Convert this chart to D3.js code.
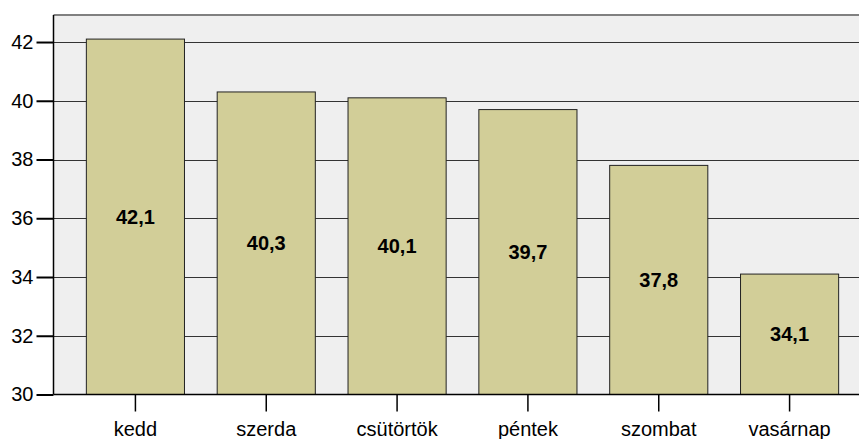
<!DOCTYPE html>
<html lang="hu">
<head>
    <meta charset="UTF-8">
    <title>Napok</title>
    <style>
        html, body { margin: 0; padding: 0; background: #fff; overflow: hidden; }
        svg { display: block; }
        .tick text { font-family: "Liberation Sans", Arial, sans-serif; font-size: 20px; fill: #000; }
        .val { font-family: "Liberation Sans", Arial, sans-serif; font-size: 20px; font-weight: bold; text-anchor: middle; dominant-baseline: central; }
    </style>
    <script src="https://d3js.org/d3.v7.min.js"></script>
</head>
<body>
<svg width="859" height="439"></svg>
<script>
    var days = ["kedd", "szerda", "csütörtök", "péntek", "szombat", "vasárnap"];
    var values = [42.1, 40.3, 40.1, 39.7, 37.8, 34.1];
    var yTicks = [30, 32, 34, 36, 38, 40, 42];
    var valueLabels = ["42,1", "40,3", "40,1", "39,7", "37,8", "34,1"];

    var data = days.map((d, i) => ({day: d, value: values[i], label: valueLabels[i]}));

    var svg = d3.select("svg");
    var plotLeft = 53.5, plotTop = 15, plotRight = 859, plotBottom = 394.5;

    var x = d3.scaleBand().domain(days).range([70, 855]).paddingInner(0.25).paddingOuter(0.125);
    var y = d3.scaleLinear().domain([30, 42.92]).range([plotBottom, plotTop]);

    // plot background
    svg.append("rect")
        .attr("x", plotLeft).attr("y", plotTop)
        .attr("width", plotRight - plotLeft).attr("height", plotBottom - plotTop)
        .attr("fill", "#efefef");

    // top border
    svg.append("line")
        .attr("x1", plotLeft).attr("x2", plotRight)
        .attr("y1", plotTop).attr("y2", plotTop)
        .attr("stroke", "#808080").attr("stroke-width", 2);

    // grid lines
    svg.append("g").selectAll("line")
        .data(yTicks.slice(1))
        .enter().append("line")
        .attr("x1", plotLeft).attr("x2", plotRight)
        .attr("y1", d => Math.round(y(d)) + 0.5).attr("y2", d => Math.round(y(d)) + 0.5)
        .attr("stroke", "#333").attr("stroke-width", 1);

    // bars
    svg.append("g").selectAll("rect")
        .data(data)
        .enter().append("rect")
        .attr("x", d => x(d.day))
        .attr("y", d => y(d.value))
        .attr("width", x.bandwidth())
        .attr("height", d => plotBottom - y(d.value))
        .attr("fill", "#d2ce98")
        .attr("stroke", "#222")
        .attr("stroke-width", 1);

    // value labels
    svg.append("g").selectAll("text")
        .data(data)
        .enter().append("text")
        .attr("class", "val")
        .attr("x", d => x(d.day) + x.bandwidth() / 2)
        .attr("y", d => (y(d.value) + plotBottom) / 2)
        .text(d => d.label);

    // y axis
    var yAxis = svg.append("g")
        .attr("transform", "translate(" + plotLeft + ",0)")
        .call(d3.axisLeft(y).tickValues(yTicks).tickSize(17).tickPadding(3).tickFormat(d3.format("d")));
    yAxis.select(".domain").attr("d", "M0," + plotTop + "V" + plotBottom).attr("stroke", "#000").attr("stroke-width", 1.5);
    yAxis.selectAll(".tick line").attr("stroke", "#000").attr("stroke-width", 2);

    // x axis
    var xAxis = svg.append("g")
        .attr("transform", "translate(0," + plotBottom + ")")
        .call(d3.axisBottom(x).tickSize(17).tickPadding(10));
    xAxis.select(".domain").attr("d", "M" + plotLeft + ",0H" + plotRight).attr("stroke", "#000").attr("stroke-width", 1.5);
    xAxis.selectAll(".tick line").attr("stroke", "#000").attr("stroke-width", 1.5);
</script>
</body>
</html>
